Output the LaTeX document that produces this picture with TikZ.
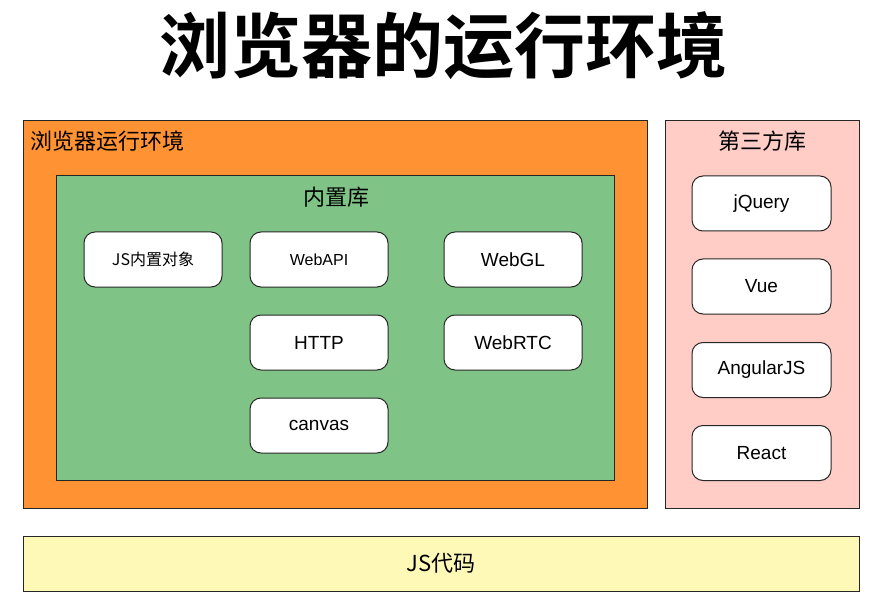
\documentclass[tikz,border=0pt]{standalone}
\usepackage{fontspec}
\setmainfont{Liberation Sans}
\newfontfamily\cjk{Noto Sans CJK SC}
\newfontfamily\cjkb{Noto Sans CJK SC Bold}
\definecolor{orangebg}{HTML}{FF9232}
\definecolor{greenbg}{HTML}{7FC386}
\definecolor{pinkbg}{HTML}{FFCCC6}
\definecolor{yellowbg}{HTML}{FFF9B8}
\definecolor{edge}{HTML}{262626}
\begin{document}
\begin{tikzpicture}[x=1pt,y=-1pt,
  panel/.style={draw=edge,line width=1pt},
  item/.style={draw=edge,line width=1pt,fill=white,rounded corners=11pt,
    minimum width=138pt,minimum height=55pt,inner sep=0pt,font=\fontsize{19}{22}\selectfont},
  smallitem/.style={item,font=\fontsize{16}{19}\selectfont},
  lbl/.style={inner sep=0pt,font=\cjk\fontsize{22}{26}\selectfont}]
\useasboundingbox (0,0) rectangle (874,601);
% title
\node[inner sep=0pt,font=\cjkb\fontsize{71}{80}\selectfont] (title) at (443,46) {浏览器的运行环境};
% panels
\draw[panel,fill=orangebg] (23.5,121) rectangle (647,508);
\draw[panel,fill=greenbg] (56.5,176) rectangle (614.5,480.5);
\draw[panel,fill=pinkbg] (665,121) rectangle (859,508);
\draw[panel,fill=yellowbg] (23.5,536) rectangle (859,591);
% labels
\node[lbl,anchor=west] (envlbl) at (30,141) {浏览器运行环境};
\node[lbl] (builtin) at (336,197) {内置库};
\node[lbl] (third) at (762,141) {第三方库};
\node[lbl] (jscode) at (441,563) {JS代码};
% builtin items
\node[smallitem,font=\cjk\fontsize{16}{19}\selectfont] (jsobj) at (153,259.5) {JS内置对象};
\node[smallitem] (webapi) at (319,259.5) {WebAPI};
\node[item] (webgl) at (513,259.5) {WebGL};
\node[item] (http) at (319,342.5) {HTTP};
\node[item] (webrtc) at (513,342.5) {WebRTC};
\node[item] (canvas) at (319,425.5) {canvas};
% third-party items
\node[item,minimum width=139pt] (jquery) at (761.5,203.5) {jQuery};
\node[item,minimum width=139pt] (vue) at (761.5,286.5) {Vue};
\node[item,minimum width=139pt] (angular) at (761.5,370) {AngularJS};
\node[item,minimum width=139pt] (react) at (761.5,453) {React};
\end{tikzpicture}
\end{document}
